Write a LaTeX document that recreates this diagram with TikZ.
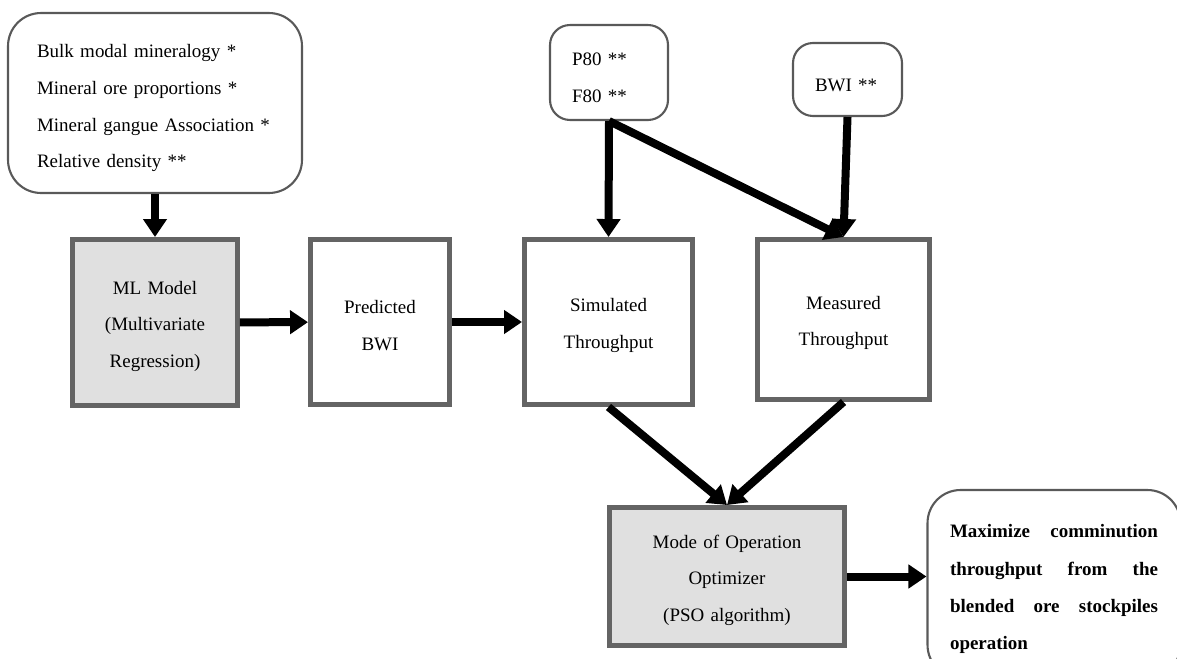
\documentclass[tikz,border=0pt]{standalone}
\usepackage{fontspec}
\setmainfont{Liberation Serif}
\usetikzlibrary{arrows.meta}

\definecolor{boxgray}{HTML}{646464}
\definecolor{fillgray}{HTML}{E0E0E0}
\definecolor{edgegray}{HTML}{595959}

\begin{document}
\begin{tikzpicture}[x=0.02cm, y=-0.02cm,
    txt/.style={font=\fontsize{10.8}{20.8}\selectfont},
    inbox/.style={txt, draw=edgegray, line width=1.2pt, rounded corners=0.4cm,
        align=left, inner xsep=0.44cm, inner ysep=0pt,
        execute at begin node={\rule{0pt}{13.5pt}}},
    procbox/.style={txt, draw=boxgray, line width=0.1cm, fill=white,
        text width=2.6cm, align=center, inner sep=0pt,
        execute at begin node={\rule{0pt}{11.5pt}}},
    flow/.style={line width=0.16cm, -{Triangle[length=0.36cm, width=0.46cm]}}]

    \useasboundingbox (0,0) rectangle (1177,659);

    % Input boxes
    \node[inbox, rounded corners=0.66cm, inner xsep=0.58cm, text width=4.72cm,
        minimum height=3.6cm] (inputs) at (155,103)
        {Bulk modal mineralogy *\\ Mineral ore proportions *\\
         Mineral gangue Association *\\ Relative density **};
    \node[inbox, text width=1.48cm, minimum height=1.9cm] (sizes) at (609,72.5)
        {P80 **\\ F80 **};
    \node[inbox, text width=1.3cm, minimum height=1.46cm] (bwi) at (847.5,79.5)
        {BWI **};

    % Process boxes
    \node[procbox, fill=fillgray, minimum width=3.3cm, minimum height=3.32cm] (ml) at (155,322.5)
        {ML Model\\ (Multivariate\\ Regression)};
    \node[procbox, minimum width=2.78cm, minimum height=3.3cm] (pred) at (380,322)
        {Predicted\\ BWI};
    \node[procbox, minimum width=3.36cm, minimum height=3.3cm] (sim) at (608.5,322)
        {Simulated\\ Throughput};
    \node[procbox, minimum width=3.44cm, minimum height=3.2cm] (meas) at (843.5,319.5)
        {Measured\\ Throughput};
    \node[procbox, fill=fillgray, text width=4.4cm, minimum width=4.7cm, minimum height=2.76cm] (opt) at (727,576.5)
        {Mode of Operation\\ Optimizer\\ (PSO algorithm)};

    % Result box (runs off the page)
    \node[inbox, rounded corners=0.66cm, align=justify, inner xsep=0.45cm, text width=4.16cm,
        minimum height=3.76cm, font=\fontsize{10.8}{21.2}\selectfont\bfseries] (goal) at (1054,584)
        {Maximize comminution\linebreak throughput from the\linebreak
         blended ore stockpiles\linebreak operation};

    % Arrows
    \draw[flow] (inputs.south) -- (ml.north);
    \draw[flow] (ml) -- (pred);
    \draw[flow] (pred) -- (sim);
    \draw[flow] (sizes.south) -- (sim.north);
    \draw[flow] (sizes.south) -- (meas.north);
    \draw[flow] (bwi.south) -- (meas.north);
    \draw[flow] (sim.south) -- (opt.north);
    \draw[flow] (meas.south) -- (opt.north);
    \draw[flow] (opt.east) -- (opt.east -| goal.west);
\end{tikzpicture}
\end{document}
